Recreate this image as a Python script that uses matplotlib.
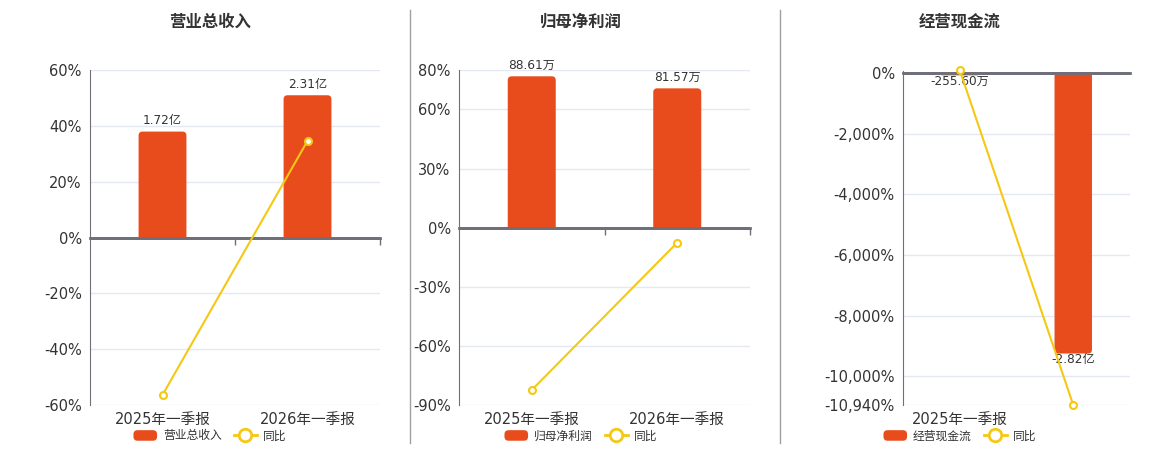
import matplotlib
matplotlib.use('Agg')
import matplotlib.pyplot as plt
from matplotlib.patches import FancyBboxPatch, Patch, PathPatch
from matplotlib.path import Path
from matplotlib.lines import Line2D
from matplotlib.legend_handler import HandlerPatch
from matplotlib.ticker import FuncFormatter

FONT = ['DejaVu Sans', 'Noto Sans CJK SC']
CJK = ['Noto Sans CJK SC', 'DejaVu Sans']
plt.rcParams['font.family'] = FONT

# data
periods = ['2025年一季报', '2026年一季报']

revenue = [1.72, 2.31]            # 亿
revenue_labels = ['1.72亿', '2.31亿']
revenue_yoy = [-56.4, 34.6]       # %

profit = [88.61, 81.57]           # 万
profit_labels = ['88.61万', '81.57万']
profit_yoy = [-82.4, -7.6]

cashflow = [-0.02556, -2.82]      # 亿
cashflow_labels = ['-255.60万', '-2.82亿']
cashflow_yoy = [85, -10940]

BAR = '#E84C1D'
LINE = '#F5C814'
AXC = '#6E7079'
GRID = '#E3E8F2'
TXT = '#333333'

W, H = 1160, 450
fig = plt.figure(figsize=(W / 100, H / 100), dpi=100)


def box(l, t, r, b):
    return [l / W, 1 - b / H, (r - l) / W, (b - t) / H]


class RoundHandler(HandlerPatch):
    def create_artists(self, legend, orig_handle, xdescent, ydescent,
                       width, height, fontsize, trans):
        p = FancyBboxPatch((-xdescent, -ydescent), width, height,
                           boxstyle='round,pad=0,rounding_size=3',
                           fc=orig_handle.get_facecolor(), ec='none',
                           transform=trans)
        return [p]


def round_bars(ax, bars, r_px=4):
    # swap each bar for one with rounded corners at its outer end
    t = ax.transData
    sx = t.transform((1, 0))[0] - t.transform((0, 0))[0]
    sy = t.transform((0, 1))[1] - t.transform((0, 0))[1]
    for b in bars:
        x, y0, w, h = b.get_x(), b.get_y(), b.get_width(), b.get_height()
        r = min(r_px, abs(h) * sy / 2)
        rx, ry = r / sx, r / sy
        s = 1 if h >= 0 else -1
        y1 = y0 + h
        xl, xr = x, x + w
        verts = [(xl, y0), (xl, y1 - s * ry), (xl, y1), (xl + rx, y1),
                 (xr - rx, y1), (xr, y1), (xr, y1 - s * ry), (xr, y0), (xl, y0)]
        codes = [Path.MOVETO, Path.LINETO, Path.CURVE3, Path.CURVE3,
                 Path.LINETO, Path.CURVE3, Path.CURVE3, Path.LINETO, Path.CLOSEPOLY]
        ax.add_patch(PathPatch(Path(verts, codes), fc=BAR, ec='none', zorder=2))
        b.set_visible(False)


panels = [
    dict(title='营业总收入', name='营业总收入', bars=revenue, labels=revenue_labels,
         yoy=revenue_yoy, ylim=(-60, 60), yticks=[-60, -40, -20, 0, 20, 40, 60],
         blim=(-2.72, 2.72), rect=(90, 70, 380, 405), cx=210, ticks=True,
         xlabels=periods),
    dict(title='归母净利润', name='归母净利润', bars=profit, labels=profit_labels,
         yoy=profit_yoy, ylim=(-90, 80), yticks=[-90, -60, -30, 0, 30, 60, 80],
         blim=(-103.8, 92.3), rect=(459, 70, 750, 405), cx=581, ticks=True,
         xlabels=periods),
    dict(title='经营现金流', name='经营现金流', bars=cashflow, labels=cashflow_labels,
         yoy=cashflow_yoy, ylim=(-10940, 60),
         yticks=[-10940, -10000, -8000, -6000, -4000, -2000, 0],
         blim=(-3.337, 0.0183), rect=(903, 71, 1130, 405), cx=960, ticks=False,
         xlabels=[periods[0], '']),
]

for pn in panels:
    ax = fig.add_axes(box(*pn['rect']))
    x = list(range(len(periods)))
    ax.set_xlim(-0.5, len(periods) - 0.5)
    ax.set_ylim(*pn['ylim'])
    ax.set_yticks(pn['yticks'])
    ax.yaxis.set_major_formatter(FuncFormatter(lambda v, _: f'{v:,.0f}%'))
    ax.tick_params(axis='y', length=0, pad=6, labelsize=10.5, labelcolor=TXT)
    ax.yaxis.grid(True, color=GRID, lw=1)
    ax.set_axisbelow(True)
    for s in ['top', 'right']:
        ax.spines[s].set_visible(False)
    ax.spines['left'].set_color(AXC)
    ax.spines['bottom'].set_position(('data', 0))
    ax.spines['bottom'].set_color(AXC)
    ax.spines['bottom'].set_linewidth(2)
    if pn['ticks']:
        ax.set_xticks([0.5, 1.5])
        ax.tick_params(axis='x', length=5, width=1, color=AXC, labelbottom=False)
    else:
        ax.set_xticks([])

    sec = ax.secondary_xaxis('bottom')
    sec.set_xticks(x, pn['xlabels'])
    sec.tick_params(length=0, pad=5, labelsize=10.5, labelcolor=TXT)
    sec.spines['bottom'].set_visible(False)

    axb = ax.twinx()
    axb.set_ylim(*pn['blim'])
    axb.axis('off')
    bars = axb.bar(x, pn['bars'], width=0.33, color=BAR, zorder=2)
    round_bars(axb, bars)
    for xi, v, lab in zip(x, pn['bars'], pn['labels']):
        off = 3 if v > 0 else 0.5
        axb.annotate(lab, (xi, v), xytext=(0, off), textcoords='offset points',
                     ha='center', va='bottom' if v > 0 else 'top',
                     fontsize=8.7, color=TXT, zorder=5)

    axl = ax.twinx()
    axl.set_ylim(*pn['ylim'])
    axl.axis('off')
    axl.axhline(0, color=AXC, lw=2, zorder=1)
    axl.plot(x, pn['yoy'], color=LINE, lw=1.5, marker='o', ms=5,
             mfc='white', mec=LINE, mew=1.5, clip_on=False, zorder=3)

    fig.text(pn['cx'] / W, 1 - 22 / H, pn['title'], ha='center', va='center',
             fontsize=11.8, fontweight='bold', color=TXT, family=CJK)

    handles = [Patch(fc=BAR), Line2D([], [], color=LINE, lw=2, marker='o', ms=9,
                                     mfc='white', mec=LINE, mew=2)]
    fig.legend(handles, [pn['name'], '同比'], loc='center',
               bbox_to_anchor=(pn['cx'] / W, 1 - 436 / H), ncol=2, frameon=False,
               prop={'family': CJK, 'size': 8.5}, labelcolor=TXT,
               handlelength=2.0, handleheight=1.0, handletextpad=0.5,
               columnspacing=1.0, borderpad=0, borderaxespad=0,
               handler_map={Patch: RoundHandler()})

for xs in (410, 780):
    fig.add_artist(Line2D([xs / W, xs / W], [1 - 10 / H, 1 - 443 / H],
                          color='#A0A0A0', lw=1))

fig.savefig('out.png', dpi=100, facecolor='white')
